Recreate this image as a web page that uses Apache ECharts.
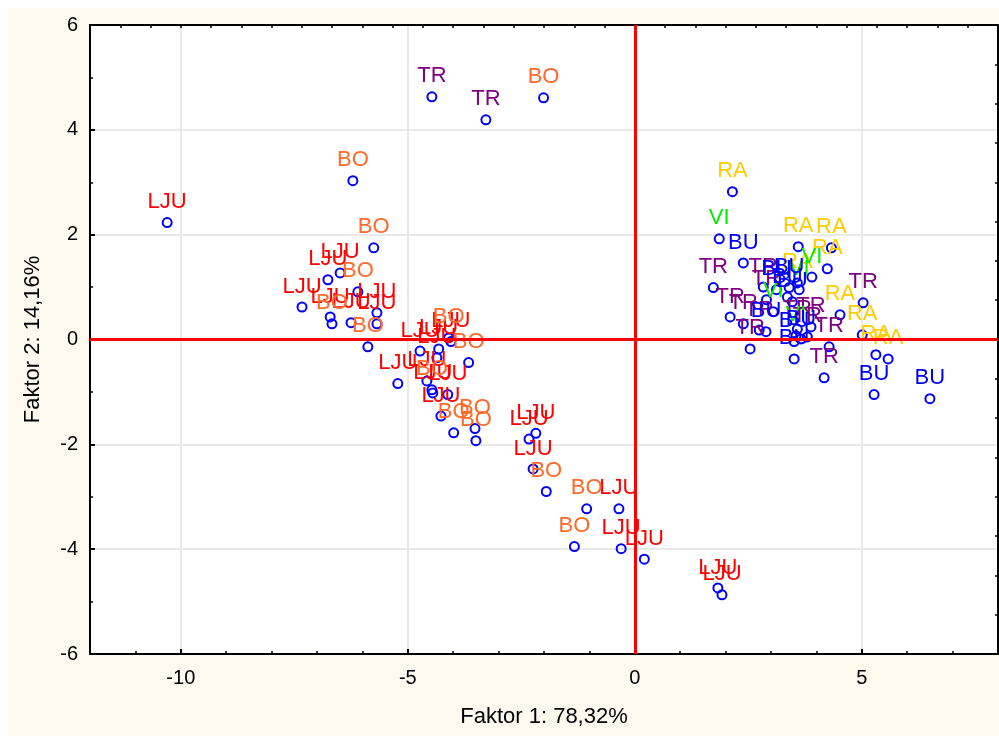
<!DOCTYPE html>
<html>
<head>
<meta charset="utf-8">
<script src="https://cdn.jsdelivr.net/npm/echarts@6/dist/echarts.min.js"></script>
<style>
html,body{margin:0;padding:0;background:#ffffff;}
#bg{position:absolute;left:8px;top:8px;width:991px;height:728px;background:#fdf9ef;}
#chart{position:absolute;left:0;top:0;width:999px;height:736px;}
</style>
</head>
<body>
<div id="bg"></div>
<div id="chart"></div>
<script>
// ---- data (Faktor 1, Faktor 2) per group ----
const ljuPoints = [
  [-10.30, 2.23], [-6.49, 1.27], [-6.76, 1.14], [-7.33, 0.62], [-6.71, 0.43],
  [-6.25, 0.32], [-5.68, 0.51], [-5.68, 0.30], [-4.05, -0.04], [-4.32, -0.18],
  [-4.73, -0.22], [-4.36, -0.35], [-5.22, -0.84], [-4.58, -0.79], [-4.45, -1.02],
  [-4.12, -1.05], [-4.27, -1.46], [-2.18, -1.79], [-2.33, -1.90], [-2.24, -2.47],
  [-0.35, -3.23], [-0.30, -3.99], [0.21, -4.19], [1.83, -4.74], [1.92, -4.87]
];
const boPoints = [
  [-2.01, 4.61], [-6.21, 3.03], [-5.75, 1.75], [-6.10, 0.91], [-6.67, 0.30],
  [-5.88, -0.14], [-4.10, 0.03], [-3.66, -0.44], [-4.47, -0.96], [-3.99, -1.78],
  [-3.52, -1.70], [-3.50, -1.93], [-1.95, -2.90], [-1.06, -3.23], [-1.33, -3.95]
];
const trPoints = [
  [-4.47, 4.63], [-3.28, 4.19], [1.73, 0.99], [2.10, 0.43], [2.39, 0.30],
  [2.54, -0.18], [2.74, 0.18], [5.03, 0.70], [4.17, -0.73], [4.28, -0.14],
  [3.80, 0.05], [2.83, 1.00], [2.90, 0.76], [3.88, 0.24], [3.58, 0.20]
];
const raPoints = [
  [2.15, 2.82], [3.60, 1.77], [4.33, 1.75], [4.24, 1.35], [3.58, 1.08],
  [4.52, 0.47], [5.01, 0.09], [5.31, -0.29], [5.58, -0.37]
];
const viPoints = [
  [1.86, 1.92], [3.90, 1.19], [3.62, 0.95], [3.05, 0.53], [3.55, 0.07]
];
const buPoints = [
  [2.39, 1.46], [2.89, 0.15], [5.27, -1.05], [6.50, -1.13], [3.51, -0.37],
  [3.66, 0.01], [3.12, 0.95], [3.40, 0.99], [3.36, 0.81], [3.47, 0.72], [3.51, -0.04]
];
const groupNames = ['LJU', 'BO', 'TR', 'RA', 'VI', 'BU'];
const groupColors = ['#ff0000', '#ff6a2a', '#800080', '#ffcc00', '#00ee00', '#0000ff'];
const groupData = [ljuPoints, boPoints, trPoints, raPoints, viPoints, buPoints];
const xMajorTicks = [-10, -5, 0, 5];
const xTitle = 'Faktor 1: 78,32%';
const yTitle = 'Faktor 2: 14,16%';

const FONT = 'Liberation Sans, Arial, sans-serif';
const chart = echarts.init(document.getElementById('chart'), null, {renderer: 'canvas'});

const series = [{
  name: 'zero', type: 'scatter', data: [], z: 1,
  xAxisIndex: 0, yAxisIndex: 0,
  markLine: {
    silent: true, symbol: ['none', 'none'], animation: false,
    label: {show: false},
    lineStyle: {color: '#ff0000', width: 3, type: 'solid', opacity: 1},
    data: [{xAxis: 0}, {yAxis: 0}]
  }
}];
groupNames.forEach((g, i) => {
  series.push({
    name: g, type: 'scatter', data: groupData[i], z: 3,
    xAxisIndex: 0, yAxisIndex: 0,
    symbol: 'circle', symbolSize: 9,
    itemStyle: {color: 'rgba(0,0,0,0)', borderColor: '#0000ff', borderWidth: 2, opacity: 1},
    label: {
      show: true, position: 'top', distance: 4,
      formatter: g, color: groupColors[i], opacity: 1,
      fontSize: 22, fontFamily: FONT
    },
    emphasis: {disabled: true}
  });
});

const axisBlack = {show: true, onZero: false, lineStyle: {color: '#000', width: 2}};
chart.setOption({
  animation: false,
  backgroundColor: 'transparent',
  grid: {left: 90, right: 1, top: 25, bottom: 82, show: true, backgroundColor: '#ffffff', borderWidth: 0, containLabel: false},
  xAxis: [{
    type: 'value', min: -12, max: 8, position: 'bottom',
    axisLine: axisBlack,
    axisTick: {show: true, inside: true, length: 5, customValues: xMajorTicks, lineStyle: {color: '#000', width: 2}},
    axisLabel: {customValues: xMajorTicks, fontSize: 20, color: '#000', fontFamily: FONT, margin: 14},
    splitLine: {show: true, lineStyle: {color: '#e2e2e2', width: 1.5}},
    name: xTitle, nameLocation: 'middle', nameGap: 52,
    nameTextStyle: {fontSize: 22, color: '#000', fontFamily: FONT}
  }, {
    type: 'value', min: -12, max: 8, interval: 1, position: 'bottom',
    axisLine: {show: false, onZero: false},
    axisTick: {show: true, inside: true, length: 3, lineStyle: {color: '#000', width: 1.5}},
    axisLabel: {show: false}, splitLine: {show: false}
  }, {
    type: 'value', min: 0, max: 30, interval: 1, position: 'top',
    axisLine: axisBlack,
    axisTick: {show: true, inside: true, length: 3, lineStyle: {color: '#000', width: 1.5}},
    axisLabel: {show: false}, splitLine: {show: false}
  }],
  yAxis: [{
    type: 'value', min: -6, max: 6, interval: 2, position: 'left',
    axisLine: axisBlack,
    axisTick: {show: true, inside: true, length: 5, lineStyle: {color: '#000', width: 2}},
    minorTick: {show: true, splitNumber: 2, length: 3, lineStyle: {color: '#000', width: 1.5}},
    axisLabel: {fontSize: 20, color: '#000', fontFamily: FONT, margin: 12},
    splitLine: {show: true, lineStyle: {color: '#e2e2e2', width: 1.5}},
    name: yTitle, nameLocation: 'middle', nameGap: 46, nameRotate: 90,
    nameTextStyle: {fontSize: 22, color: '#000', fontFamily: FONT}
  }, {
    type: 'value', min: 0, max: 16, interval: 1, position: 'right',
    axisLine: axisBlack,
    axisTick: {show: true, inside: true, length: 3, lineStyle: {color: '#000', width: 1.5}},
    axisLabel: {show: false}, splitLine: {show: false}
  }],
  series: series
});
</script>
</body>
</html>
